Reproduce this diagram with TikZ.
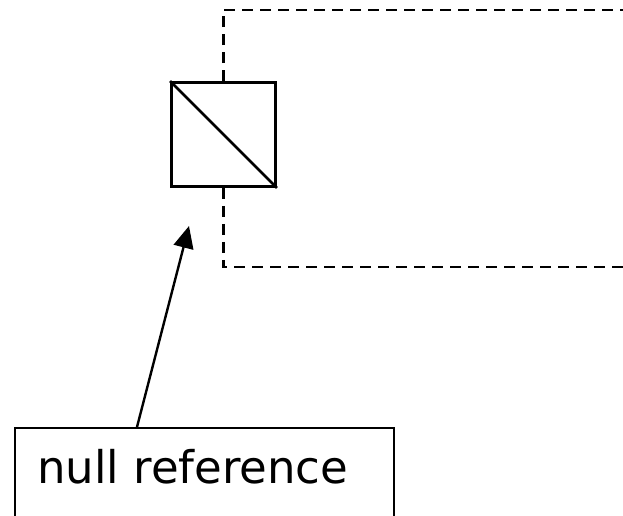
\documentclass[tikz,border=0pt]{standalone}
\usepackage{fontspec}
\setmainfont{DejaVu Sans}
\usetikzlibrary{arrows.meta}
\begin{document}
\begin{tikzpicture}[x=1pt,y=-1pt,
  box/.style={draw,line width=2.8pt,minimum width=104pt,minimum height=104pt,inner sep=0pt},
  labelbox/.style={draw,line width=2.2pt,minimum width=379pt,minimum height=92pt,inner sep=0pt,anchor=north west},
  link/.style={line width=2.6pt,dash pattern=on 11pt off 7pt},
  pointer/.style={line width=2.4pt,-{Triangle[length=22pt,width=20pt]}}]
\useasboundingbox (0,0) rectangle (623,515);
\clip (0,0) rectangle (623,515);
\node[box] (ref) at (223.5,134.5) {};
\draw[line width=2.8pt] (ref.north west) -- (ref.south east);
\coordinate (topend) at (630,10);
\coordinate (botend) at (630,267);
\draw[link] (ref.north) -- (ref.north |- topend) -- (topend);
\draw[link] (ref.south) -- (ref.south |- botend) -- (botend);
\node[labelbox] (nullbox) at (14,427) {};
\node[font=\fontsize{45}{52}\selectfont,anchor=base west,inner sep=0pt] (nulltext) at (37,483) {null reference};
\coordinate (tail) at (137,427);
\coordinate (tip) at (189,226);
\draw[pointer] (tail) -- (tip);
\end{tikzpicture}
\end{document}
